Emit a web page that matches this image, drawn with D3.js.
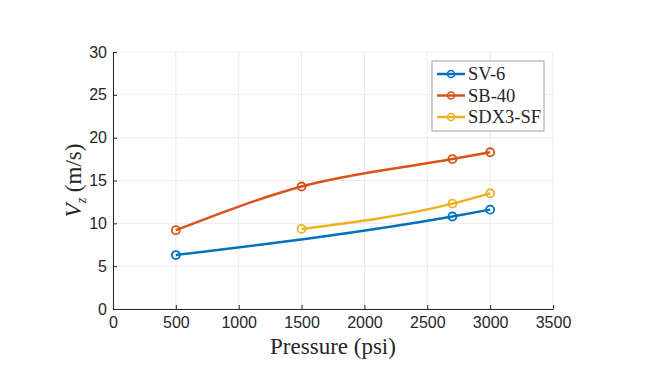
<!DOCTYPE html>
<html>
<head>
<meta charset="utf-8">
<script src="https://cdn.jsdelivr.net/npm/d3@7"></script>
<style>
  body { margin: 0; background: #fff; }
  svg { display: block; }
</style>
</head>
<body>
<div id="chart"></div>
<script>
const seriesNames = ["SV-6", "SB-40", "SDX3-SF"];
const seriesColors = ["#0072BD", "#D95319", "#EDB120"];

const sv6Pressure = [500, 2700, 3000];
const sv6Velocity = [6.3, 10.8, 11.6];
const sb40Pressure = [500, 1500, 2700, 3000];
const sb40Velocity = [9.2, 14.3, 17.5, 18.3];
const sdx3Pressure = [1500, 2700, 3000];
const sdx3Velocity = [9.35, 12.3, 13.5];

const xTicks = [0, 500, 1000, 1500, 2000, 2500, 3000, 3500];
const yTicks = [0, 5, 10, 15, 20, 25, 30];

const width = 660, height = 370;
const margin = {top: 52, right: 107, bottom: 61, left: 113};
const plotW = width - margin.left - margin.right;
const plotH = height - margin.top - margin.bottom;

const svg = d3.select("#chart").append("svg")
	.attr("width", width)
	.attr("height", height);

const g = svg.append("g")
	.attr("transform", "translate(" + margin.left + "," + margin.top + ")");

const x = d3.scaleLinear().domain([0, 3500]).range([0, plotW]);
const y = d3.scaleLinear().domain([0, 30]).range([plotH, 0]);

// grid
g.append("g").selectAll("line")
	.data(xTicks).enter().append("line")
	.attr("x1", d => x(d)).attr("x2", d => x(d))
	.attr("y1", 0).attr("y2", plotH)
	.attr("stroke", "#ebebeb");
g.append("g").selectAll("line")
	.data(yTicks).enter().append("line")
	.attr("x1", 0).attr("x2", plotW)
	.attr("y1", d => y(d)).attr("y2", d => y(d))
	.attr("stroke", "#ebebeb");

// axes
const xAxis = g.append("g")
	.attr("transform", "translate(0," + plotH + ")")
	.call(d3.axisBottom(x).tickValues(xTicks).tickFormat(d3.format("d"))
		.tickSizeInner(-4).tickSizeOuter(0).tickPadding(8));
const yAxis = g.append("g")
	.call(d3.axisLeft(y).tickValues(yTicks).tickFormat(d3.format("d"))
		.tickSizeInner(-4).tickSizeOuter(0).tickPadding(6));

[xAxis, yAxis].forEach(a => {
	a.select(".domain").attr("stroke", "#262626");
	a.selectAll(".tick line").attr("stroke", "#262626");
	a.selectAll(".tick text")
		.attr("fill", "#262626")
		.style("font-family", "'Liberation Sans', Arial, sans-serif")
		.style("font-size", "16px");
});

// data series
const data = [
	{name: seriesNames[0], color: seriesColors[0], px: sv6Pressure, vy: sv6Velocity},
	{name: seriesNames[1], color: seriesColors[1], px: sb40Pressure, vy: sb40Velocity},
	{name: seriesNames[2], color: seriesColors[2], px: sdx3Pressure, vy: sdx3Velocity}
];

const line = d3.line()
	.x(d => x(d[0]))
	.y(d => y(d[1]))
	.curve(d3.curveMonotoneX);

data.forEach(s => {
	const pts = s.px.map((p, i) => [p, s.vy[i]]);
	g.append("path")
		.datum(pts)
		.attr("fill", "none")
		.attr("stroke", s.color)
		.attr("stroke-width", 2.5)
		.attr("d", line);
	g.append("g").selectAll("circle")
		.data(pts).enter().append("circle")
		.attr("cx", d => x(d[0]))
		.attr("cy", d => y(d[1]))
		.attr("r", 4)
		.attr("fill", "none")
		.attr("stroke", s.color)
		.attr("stroke-width", 1.8);
});

// axis labels
svg.append("text")
	.attr("x", margin.left + plotW / 2)
	.attr("y", 354)
	.attr("text-anchor", "middle")
	.style("font-family", "'Liberation Serif', 'DejaVu Serif', serif")
	.style("font-size", "23px")
	.attr("fill", "#262626")
	.text("Pressure (psi)");

const yl = svg.append("text")
	.attr("transform", "translate(81," + (margin.top + plotH / 2) + ") rotate(-90)")
	.attr("text-anchor", "middle")
	.style("font-family", "'Liberation Serif', 'DejaVu Serif', serif")
	.style("font-size", "23px")
	.attr("fill", "#262626");
yl.append("tspan").style("font-style", "italic").text("V");
yl.append("tspan").style("font-style", "italic").style("font-size", "14px").attr("dy", 5).text("z");
yl.append("tspan").attr("dy", -5).text(" (m/s)");

// legend
const lg = svg.append("g").attr("transform", "translate(432,61)");
lg.append("rect")
	.attr("width", 112).attr("height", 70)
	.attr("fill", "#fff")
	.attr("stroke", "#a0a0a0")
	.attr("stroke-width", 1);
data.forEach((s, i) => {
	const ly = 13 + i * 21.5;
	lg.append("line")
		.attr("x1", 5).attr("x2", 33)
		.attr("y1", ly).attr("y2", ly)
		.attr("stroke", s.color).attr("stroke-width", 2.5);
	lg.append("circle")
		.attr("cx", 19).attr("cy", ly).attr("r", 3.5)
		.attr("fill", "none").attr("stroke", s.color).attr("stroke-width", 1.5);
	lg.append("text")
		.attr("x", 36).attr("y", ly + 6)
		.style("font-family", "'Liberation Serif', 'DejaVu Serif', serif")
		.style("font-size", "18.5px")
		.attr("fill", "#262626")
		.text(s.name);
});
</script>
</body>
</html>
